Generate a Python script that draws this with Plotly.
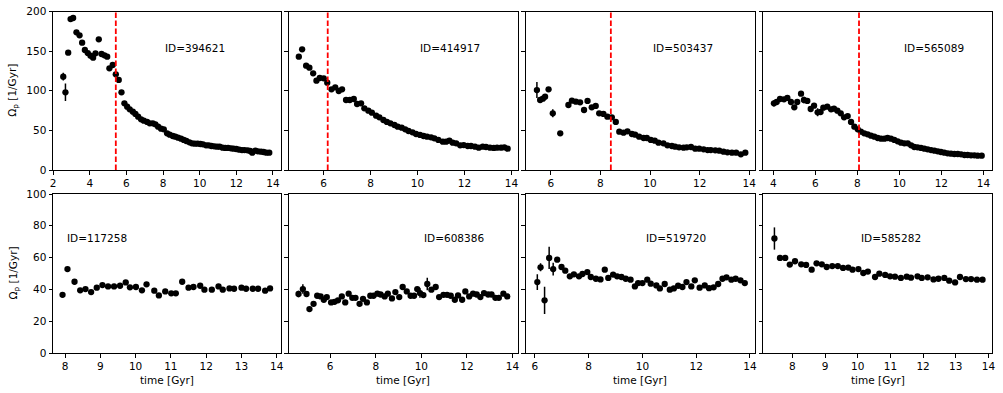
import plotly.graph_objects as go

W, H = 1003, 393

# ---------------- data ----------------
ids = ["394621", "414917", "503437", "565089", "117258", "608386", "519720", "585282"]
corot_lines = [5.42, 6.18, 8.42, 8.08]

t1 = [2.55, 2.67, 2.82, 2.95, 3.09, 3.27, 3.44, 3.58, 3.73, 3.89, 4.04, 4.18, 4.31, 4.49, 4.64,
      4.80, 4.95, 5.07, 5.25, 5.42, 5.58, 5.73, 5.89, 6.04, 6.18, 6.35, 6.49, 6.64, 6.80, 6.95,
      7.13, 7.27, 7.44, 7.58, 7.73, 7.89, 8.04, 8.22, 8.36, 8.53, 8.67, 8.82, 8.98, 9.13, 9.27,
      9.44, 9.58, 9.73, 9.89, 10.04, 10.18, 10.35, 10.49, 10.64, 10.80, 10.95, 11.09, 11.25, 11.40, 11.55,
      11.71, 11.85, 12.00, 12.16, 12.31, 12.45, 12.62, 12.76, 12.87, 13.04, 13.18, 13.35, 13.49, 13.64, 13.80]
o1 = [117.8, 98, 148, 190.5, 191.8, 173.7, 170, 160.7, 151.4, 147.6, 144.3, 141.7, 147.2, 164.9, 146.4,
      144.7, 143, 128.3, 132.5, 120.7, 113.6, 98, 84.1, 79.9, 76.6, 73.6, 70.7, 67.3, 63.9, 62.3,
      60.6, 58.9, 58.9, 57.6, 54.7, 52.2, 51.3, 46.3, 44.6, 42.9, 42.1, 40.8, 39.5, 37.9, 36.6,
      34.9, 33.6, 33.2, 33.2, 32.8, 32.4, 31.1, 31.1, 30.3, 29.9, 29.4, 29.4, 28.2, 27.8, 27.8,
      27.3, 26.9, 26.5, 25.7, 25.2, 25.2, 24.8, 24.0, 21.9, 24.4, 23.6, 23.1, 22.7, 21.9, 21.9]
e1 = [5, 11, 2, 2, 2, 2, 2, 2, 2, 2, 2, 2, 2, 2, 2,
      2, 2, 2, 2, 2, 2, 2, 1, 1, 1, 1, 1, 1, 1, 1,
      1, 1, 1, 1, 1, 1, 1, 1, 1, 1, 1, 1, 1, 1, 1,
      1, 1, 1, 1, 1, 1, 1, 1, 1, 1, 1, 1, 1, 1, 1,
      1, 1, 1, 1, 1, 1, 1, 1, 1, 1, 1, 1, 1, 1, 1]

t2 = [4.95, 5.09, 5.26, 5.40, 5.56, 5.70, 5.84, 6.01, 6.16, 6.34, 6.50, 6.65, 6.79, 6.96, 7.12,
      7.29, 7.43, 7.60, 7.74, 7.91, 8.06, 8.24, 8.38, 8.55, 8.70, 8.85, 9.02, 9.16, 9.33, 9.48,
      9.62, 9.79, 9.94, 10.11, 10.26, 10.41, 10.58, 10.72, 10.89, 11.08, 11.22, 11.36, 11.50, 11.65, 11.82,
      11.97, 12.14, 12.28, 12.45, 12.61, 12.78, 12.92, 13.09, 13.25, 13.39, 13.56, 13.70, 13.84]
o2 = [143, 152.3, 131.7, 129.1, 122, 112.7, 116.1, 115.7, 110.2, 101.8, 104.3, 99.7, 101.8, 88.3, 88.3,
      89.6, 83.3, 84.1, 77.8, 74.9, 72.3, 68.6, 66.5, 63.1, 60.6, 58.9, 56.8, 54.7, 53.4, 51.3,
      49.2, 47.5, 45.4, 44.2, 42.9, 42.1, 41.2, 40.0, 37.9, 35.8, 35.8, 37.0, 34.5, 33.6, 31.1,
      31.5, 30.3, 30.3, 29.4, 28.2, 29.4, 29.0, 28.2, 27.8, 28.2, 28.2, 28.6, 26.9]
e2 = [2, 2, 2, 2, 2, 2, 2, 2, 2, 2, 2, 2, 2, 1, 1,
      1, 1, 1, 1, 1, 1, 1, 1, 1, 1, 1, 1, 1, 1, 1,
      1, 1, 1, 1, 1, 1, 1, 1, 1, 1, 1, 1, 1, 1, 1,
      1, 1, 1, 1, 1, 1, 1, 1, 1, 1, 1, 1, 1]

t3 = [5.44, 5.57, 5.68, 5.77, 5.91, 6.08, 6.38, 6.71, 6.85, 7.01, 7.18, 7.34, 7.48, 7.65, 7.81,
      7.95, 8.12, 8.28, 8.46, 8.62, 8.76, 8.93, 9.09, 9.27, 9.40, 9.56, 9.74, 9.87, 10.03, 10.19,
      10.34, 10.54, 10.70, 10.88, 11.01, 11.17, 11.35, 11.48, 11.65, 11.82, 11.98, 12.16, 12.32, 12.45, 12.63,
      12.79, 12.96, 13.12, 13.30, 13.47, 13.66, 13.84]
o3 = [100.9, 88.3, 90.0, 92.5, 101.8, 71.5, 46.3, 82.0, 87.5, 86.2, 85.4, 75.7, 87.1, 79.1, 80.8,
      71.5, 70.7, 67.3, 66.5, 60.6, 48.4, 47.1, 48.8, 45.4, 44.6, 42.1, 40.4, 40.4, 37.9, 37.0,
      34.5, 33.6, 31.1, 30.3, 29.4, 28.6, 28.2, 28.6, 29.0, 26.9, 26.9, 26.1, 25.2, 25.2, 24.8,
      24.4, 23.1, 22.3, 21.9, 21.9, 19.8, 21.9]
e3 = [10, 3, 3, 3, 3, 5, 1, 3, 2, 2, 2, 2, 2, 2, 2,
      2, 2, 2, 2, 2, 1, 1, 1, 1, 1, 1, 1, 1, 1, 1,
      1, 1, 1, 1, 1, 1, 1, 1, 1, 1, 1, 1, 1, 1, 1,
      1, 1, 1, 1, 1, 1, 1]

t4 = [4.03, 4.16, 4.32, 4.51, 4.67, 4.84, 5.00, 5.14, 5.32, 5.46, 5.62, 5.78, 5.94, 6.11, 6.25,
      6.38, 6.57, 6.75, 6.89, 7.05, 7.21, 7.37, 7.54, 7.70, 7.86, 8.02, 8.17, 8.33, 8.49, 8.65,
      8.81, 8.97, 9.13, 9.29, 9.44, 9.60, 9.76, 9.92, 10.08, 10.24, 10.40, 10.56, 10.71, 10.87, 11.03,
      11.19, 11.35, 11.51, 11.67, 11.83, 11.98, 12.14, 12.30, 12.46, 12.62, 12.78, 12.94, 13.10, 13.25, 13.41,
      13.57, 13.73, 13.92]
o4 = [84.1, 85.8, 89.6, 89.2, 90.9, 85.8, 79.1, 85.8, 96.3, 88.3, 87.1, 77.0, 81.2, 72.8, 73.2,
      78.7, 79.9, 76.6, 77.4, 74.9, 71.5, 66.5, 68.1, 60.6, 54.7, 51.3, 48.4, 46.3, 45.0, 43.3,
      42.1, 40.4, 39.5, 39.5, 40.4, 39.5, 37.9, 36.2, 34.5, 33.6, 33.6, 31.1, 29.0, 28.6, 27.8,
      26.9, 26.1, 25.2, 24.4, 23.6, 22.7, 21.9, 21.0, 20.6, 20.2, 20.2, 19.8, 18.9, 18.9, 18.5,
      18.5, 18.1, 18.1]
e4 = [4, 3, 3, 2, 2, 2, 2, 2, 2, 4, 2, 2, 2, 5, 2,
      2, 2, 2, 2, 2, 2, 2, 2, 2, 1, 1, 1, 1, 1, 1,
      1, 1, 1, 1, 1, 1, 1, 1, 1, 1, 1, 1, 1, 1, 1,
      1, 1, 1, 1, 1, 1, 1, 1, 1, 1, 1, 1, 1, 1, 1,
      1, 1, 1]

t5 = [7.93, 8.07, 8.27, 8.43, 8.58, 8.74, 8.90, 9.06, 9.22, 9.39, 9.56, 9.72, 9.84, 10.01, 10.18,
      10.31, 10.53, 10.66, 10.84, 11.01, 11.14, 11.32, 11.50, 11.64, 11.83, 11.95, 12.16, 12.35, 12.47, 12.66,
      12.79, 13.00, 13.13, 13.32, 13.47, 13.67, 13.81]
o5 = [36.6, 52.8, 44.8, 39.4, 40.2, 38.3, 41.1, 42.7, 41.9, 41.9, 42.3, 44.4, 41.3, 41.5, 39.4,
      43.2, 39.2, 36.2, 38.7, 37.5, 37.5, 44.8, 41.1, 41.5, 42.3, 39.8, 39.8, 41.9, 39.8, 40.6,
      40.4, 41.1, 40.4, 40.4, 40.4, 39.2, 40.6]
e5 = [1, 1, 1, 1, 1, 1, 1, 1, 1, 1, 1, 1, 1, 1, 1,
      1, 1, 1, 1, 1, 1, 1, 1, 1, 1, 1, 1, 1, 1, 1,
      1, 1, 1, 1, 1, 1, 1]

t6 = [4.61, 4.80, 4.96, 5.09, 5.27, 5.43, 5.58, 5.72, 5.85, 6.04, 6.19, 6.34, 6.51, 6.66, 6.81,
      6.97, 7.11, 7.29, 7.44, 7.61, 7.76, 7.90, 8.07, 8.21, 8.39, 8.53, 8.71, 8.86, 9.03, 9.18,
      9.36, 9.53, 9.68, 9.82, 9.94, 10.09, 10.26, 10.44, 10.63, 10.78, 10.97, 11.13, 11.29, 11.47, 11.61,
      11.79, 11.93, 12.10, 12.27, 12.43, 12.59, 12.75, 12.93, 13.08, 13.25, 13.40, 13.60, 13.77]
o6 = [37.1, 40.2, 37.1, 27.6, 30.9, 36.0, 35.6, 33.5, 35.2, 31.8, 32.2, 33.1, 35.6, 31.8, 37.3,
      34.7, 34.7, 30.9, 34.1, 31.8, 36.0, 36.0, 37.3, 36.8, 35.6, 37.3, 34.3, 38.3, 35.2, 41.5,
      38.7, 36.0, 36.0, 40.2, 37.7, 36.4, 43.4, 39.8, 41.5, 35.2, 36.6, 36.6, 36.0, 33.5, 36.2,
      33.5, 38.7, 35.6, 37.3, 36.8, 35.2, 37.7, 36.8, 36.8, 34.7, 34.7, 37.3, 35.6]
e6 = [2, 3, 1, 1, 1, 1, 1, 1, 1, 1, 1, 1, 1, 1, 1,
      1, 1, 1, 1, 1, 1, 1, 1, 1, 1, 1, 1, 1, 1, 1,
      1, 1, 1, 1, 3, 1, 4, 1, 1, 1, 1, 1, 1, 1, 1,
      1, 1, 1, 1, 1, 1, 1, 1, 1, 1, 1, 1, 1]

t7 = [6.09, 6.21, 6.36, 6.53, 6.68, 6.83, 6.99, 7.13, 7.30, 7.45, 7.64, 7.77, 7.95, 8.08, 8.27,
      8.44, 8.60, 8.73, 8.91, 9.06, 9.22, 9.38, 9.56, 9.72, 9.84, 10.00, 10.18, 10.31, 10.52, 10.65,
      10.83, 11.02, 11.17, 11.33, 11.49, 11.64, 11.82, 11.95, 12.13, 12.32, 12.48, 12.65, 12.82, 12.98, 13.13,
      13.31, 13.47, 13.65, 13.81]
o7 = [44.6, 53.9, 33.1, 59.8, 52.8, 58.7, 54.1, 51.8, 48.2, 49.5, 48.2, 49.7, 50.9, 47.8, 46.7,
      46.3, 52.4, 47.2, 49.3, 48.2, 47.8, 46.7, 46.1, 41.9, 44.0, 44.0, 46.1, 43.6, 42.5, 40.6,
      43.4, 39.8, 40.6, 42.3, 41.5, 44.6, 41.9, 45.7, 41.1, 42.5, 40.8, 41.3, 43.4, 46.7, 47.6,
      46.1, 46.7, 45.7, 44.0]
e7 = [5, 2.5, 8.5, 7, 4, 1, 1, 1, 1, 1, 1, 1, 1, 1, 1,
      1, 1, 1, 1, 1, 1, 1, 1, 1, 1, 1, 1, 1, 1, 1,
      1, 1, 1, 1, 1, 1, 1, 1, 1, 1, 1, 1, 1, 1, 1,
      1, 1, 1, 1]

t8 = [7.45, 7.62, 7.78, 7.92, 8.08, 8.27, 8.42, 8.59, 8.74, 8.90, 9.05, 9.22, 9.39, 9.55, 9.71,
      9.84, 10.02, 10.17, 10.31, 10.53, 10.66, 10.84, 10.99, 11.14, 11.32, 11.50, 11.63, 11.83, 11.96, 12.14,
      12.32, 12.47, 12.65, 12.80, 12.98, 13.13, 13.31, 13.47, 13.65, 13.82]
o8 = [72.0, 59.8, 59.8, 55.6, 57.7, 55.8, 55.4, 52.4, 56.4, 55.8, 54.1, 54.7, 54.7, 53.5, 53.7,
      52.4, 52.8, 50.3, 51.2, 47.8, 49.9, 49.1, 48.2, 48.0, 47.2, 48.0, 47.4, 48.2, 47.2, 47.6,
      46.3, 46.7, 47.2, 45.5, 44.4, 47.8, 46.5, 46.5, 46.1, 46.1]
e8 = [7, 1, 1, 1, 1, 1, 1, 1, 1, 1, 1, 1, 1, 1, 1,
      1, 1, 1, 1, 1, 1, 1, 1, 1, 1, 1, 1, 1, 1, 1,
      1, 1, 1, 1, 1, 1, 1, 1, 1, 1]

series = [(t1, o1, e1), (t2, o2, e2), (t3, o3, e3), (t4, o4, e4),
          (t5, o5, e5), (t6, o6, e6), (t7, o7, e7), (t8, o8, e8)]

x_ranges = [[1.99, 14.44], [4.51, 14.26], [4.98, 14.23], [3.51, 14.41],
            [7.66, 14.12], [4.17, 14.22], [5.65, 14.19], [7.10, 14.11]]
x_ticks = [[2, 4, 6, 8, 10, 12, 14], [6, 8, 10, 12, 14], [6, 8, 10, 12, 14], [4, 6, 8, 10, 12, 14],
           [8, 9, 10, 11, 12, 13, 14], [6, 8, 10, 12, 14], [6, 8, 10, 12, 14], [8, 9, 10, 11, 12, 13, 14]]
y_top_ticks = [0, 50, 100, 150, 200]
y_bot_ticks = [0, 20, 40, 60, 80, 100]

# ---------------- layout geometry (pixels) ----------------
col_px = [(53, 281), (288.5, 517.5), (525.5, 755), (763, 992)]
row_px = [(11.5, 170), (194, 353)]
id_left_px = [163, 418, 650.5, 901.5, 65, 421.5, 643.5, 858.5]
id_y_px = [47.5, 47.5, 47.5, 47.5, 238.5, 238.5, 238.5, 238.5]

FONT = "DejaVu Sans"
FS = 10.5

fig = go.Figure()
layout = dict(
    width=W, height=H, margin=dict(l=0, r=0, t=0, b=0),
    paper_bgcolor="white", plot_bgcolor="white",
    showlegend=False, font=dict(family=FONT, size=FS, color="black"),
)

for k in range(8):
    r, c = divmod(k, 4)
    n = k + 1
    t, o, e = series[k]
    xa = "x" if n == 1 else f"x{n}"
    ya = "y" if n == 1 else f"y{n}"
    fig.add_trace(go.Scatter(
        x=t, y=o, mode="markers", xaxis=xa, yaxis=ya,
        marker=dict(color="black", size=6.3, line=dict(width=0)),
        error_y=dict(type="data", array=e, visible=True, color="black", thickness=1.5, width=0),
        cliponaxis=False,
    ))
    x0, x1 = col_px[c]
    y0, y1 = row_px[r]
    axis_common = dict(showline=True, linecolor="black", linewidth=1, mirror=True,
                       ticks="outside", ticklen=3.5, tickwidth=1, tickcolor="black",
                       showgrid=False, zeroline=False, automargin=False,
                       tickfont=dict(family=FONT, size=FS, color="black"))
    layout[f"xaxis{n}"] = dict(axis_common, domain=[x0 / W, x1 / W], anchor=ya,
                               range=x_ranges[k], tickvals=x_ticks[k],
                               ticktext=[str(v) for v in x_ticks[k]])
    yticks = y_top_ticks if r == 0 else y_bot_ticks
    layout[f"yaxis{n}"] = dict(axis_common, domain=[1 - y1 / H, 1 - y0 / H], anchor=xa,
                               range=[0, 200] if r == 0 else [0, 100], tickvals=yticks,
                               ticktext=[str(v) for v in yticks],
                               showticklabels=(c == 0))

annotations = []
for k in range(8):
    annotations.append(dict(text="ID=" + ids[k], x=id_left_px[k] / W, y=1 - id_y_px[k] / H,
                            xref="paper", yref="paper", xanchor="left", yanchor="middle",
                            showarrow=False, font=dict(family=FONT, size=FS, color="black")))
for yc in [(row_px[0][0] + row_px[0][1]) / 2, (row_px[1][0] + row_px[1][1]) / 2]:
    annotations.append(dict(text="Ω<sub>p</sub> [1/Gyr]", x=13 / W, y=1 - yc / H,
                            xref="paper", yref="paper", xanchor="center", yanchor="middle",
                            textangle=-90, showarrow=False,
                            font=dict(family=FONT, size=FS, color="black")))
for c in range(4):
    xc = (col_px[c][0] + col_px[c][1]) / 2
    annotations.append(dict(text="time [Gyr]", x=xc / W, y=1 - 380 / H,
                            xref="paper", yref="paper", xanchor="center", yanchor="middle",
                            showarrow=False, font=dict(family=FONT, size=FS, color="black")))
layout["annotations"] = annotations

shapes = []
for k in range(4):
    n = k + 1
    xa = "x" if n == 1 else f"x{n}"
    ya = "y" if n == 1 else f"y{n}"
    shapes.append(dict(type="line", xref=xa, yref=f"{ya} domain",
                       x0=corot_lines[k], x1=corot_lines[k], y0=0, y1=1,
                       line=dict(color="red", width=1.8, dash="5.5px,2.5px")))
layout["shapes"] = shapes

fig.update_layout(**layout)
fig.write_html("out.html", config={"displayModeBar": False},
               post_script="document.body.style.margin='0';document.body.style.overflow='hidden';")
